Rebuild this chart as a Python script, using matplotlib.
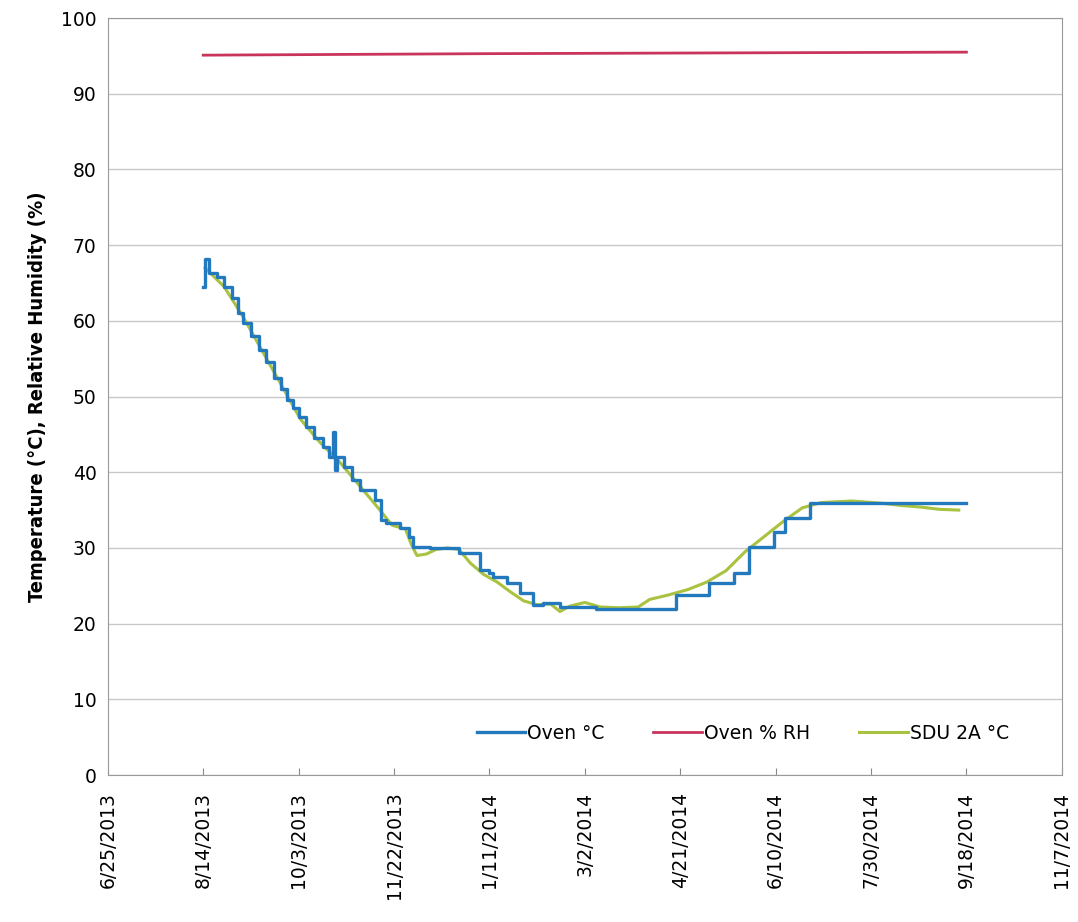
import pandas as pd
import matplotlib
matplotlib.use('Agg')
import matplotlib.pyplot as plt

# Oven temperature (stepped controller setpoint)
oven_dates = ['2013-08-14', '2013-08-15', '2013-08-17', '2013-08-21', '2013-08-25', '2013-08-29',
              '2013-09-01', '2013-09-04', '2013-09-08', '2013-09-12', '2013-09-16', '2013-09-20',
              '2013-09-24', '2013-09-27', '2013-09-30', '2013-10-03', '2013-10-07', '2013-10-11',
              '2013-10-16', '2013-10-19', '2013-10-21', '2013-10-22', '2013-10-23', '2013-10-27',
              '2013-10-31', '2013-11-04', '2013-11-12', '2013-11-15', '2013-11-18', '2013-11-25',
              '2013-11-30', '2013-12-02', '2013-12-11', '2013-12-26', '2014-01-06', '2014-01-11',
              '2014-01-13', '2014-01-20', '2014-01-27', '2014-02-03', '2014-02-08', '2014-02-17',
              '2014-03-08', '2014-04-19', '2014-05-06', '2014-05-19', '2014-05-27', '2014-06-09',
              '2014-06-15', '2014-06-28', '2014-09-18']
oven_temp = [64.5, 68.2, 66.3, 65.8, 64.5, 63.0,
             61.0, 59.7, 58.0, 56.1, 54.5, 52.5,
             51.0, 49.5, 48.5, 47.3, 46.0, 44.5,
             43.3, 42.0, 45.3, 40.3, 42.0, 40.7,
             39.0, 37.6, 36.3, 33.7, 33.3, 32.6,
             31.4, 30.1, 30.0, 29.3, 27.1, 26.7,
             26.2, 25.4, 24.0, 22.5, 22.7, 22.2,
             22.0, 23.8, 25.4, 26.7, 30.1, 32.1,
             34.0, 35.9, 35.9]

# Oven relative humidity
rh_dates = ['2013-08-14', '2014-01-11', '2014-09-18']
rh_values = [95.1, 95.3, 95.5]

# SDU 2A temperature
sdu_dates = ['2013-08-15', '2013-08-25', '2013-09-04', '2013-09-14', '2013-09-24', '2013-10-04',
             '2013-10-14', '2013-10-24', '2013-11-03', '2013-11-13', '2013-11-21', '2013-11-28',
             '2013-12-01', '2013-12-04', '2013-12-09', '2013-12-14', '2013-12-20', '2013-12-26',
             '2014-01-01', '2014-01-08', '2014-01-15', '2014-01-22', '2014-01-29', '2014-02-05',
             '2014-02-12', '2014-02-17', '2014-02-22', '2014-03-02', '2014-03-10', '2014-03-20',
             '2014-03-30', '2014-04-05', '2014-04-15', '2014-04-25', '2014-05-05', '2014-05-15',
             '2014-05-25', '2014-06-04', '2014-06-14', '2014-06-24', '2014-07-04', '2014-07-20',
             '2014-08-05', '2014-08-15', '2014-08-25', '2014-09-04', '2014-09-14']
sdu_temp = [67.0, 64.5, 60.5, 56.0, 51.5, 47.0,
            44.0, 41.5, 38.5, 35.5, 33.0, 32.5,
            30.5, 29.0, 29.2, 29.8, 30.0, 29.8,
            28.0, 26.5, 25.5, 24.2, 23.0, 22.5,
            22.6, 21.6, 22.3, 22.8, 22.2, 22.1,
            22.2, 23.2, 23.8, 24.5, 25.5, 27.0,
            29.5, 31.5, 33.5, 35.3, 36.0, 36.2,
            35.9, 35.6, 35.4, 35.1, 35.0]

x_start, x_end, tick_step = '2013-06-25', '2014-11-07', 50

fig = plt.figure(figsize=(10.78, 9.22), dpi=100)
ax = fig.add_axes([0.1, 0.1594, 0.885, 0.821])

ax.plot(pd.to_datetime(oven_dates), oven_temp, drawstyle='steps-post',
        color='#2379bd', lw=2.4, label='Oven °C', zorder=3)
ax.plot(pd.to_datetime(rh_dates), rh_values, color='#c9345c', lw=2.0,
        label='Oven % RH', zorder=3)
ax.plot(pd.to_datetime(sdu_dates), sdu_temp, color='#a9c23f', lw=2.2,
        label='SDU 2A °C', zorder=2)

ticks = pd.date_range(x_start, x_end, freq=f'{tick_step}D')
ax.set_xlim(ticks[0], ticks[-1])
ax.set_xticks(ticks)
ax.set_xticklabels([f'{d.month}/{d.day}/{d.year}' for d in ticks], rotation=90, fontsize=13.5)
ax.set_ylim(0, 100)
ax.set_yticks(range(0, 101, 10))
ax.tick_params(axis='y', length=0, labelsize=13.5, pad=8)
ax.tick_params(axis='x', direction='in', length=5, color='#888888', pad=12)

ax.grid(axis='y', color='#c8c8c8', lw=1)
for s in ax.spines.values():
    s.set_color('#999999')

ax.set_ylabel('Temperature (°C), Relative Humidity (%)', fontsize=14.5, fontweight='bold',
              fontstretch='condensed', labelpad=10)

ax.legend(loc='lower right', bbox_to_anchor=(0.962, 0.02), ncol=3, frameon=False,
          fontsize=13.5, handlelength=2.6, handletextpad=0.1, columnspacing=2.6)

fig.savefig('out.png', dpi=100)
